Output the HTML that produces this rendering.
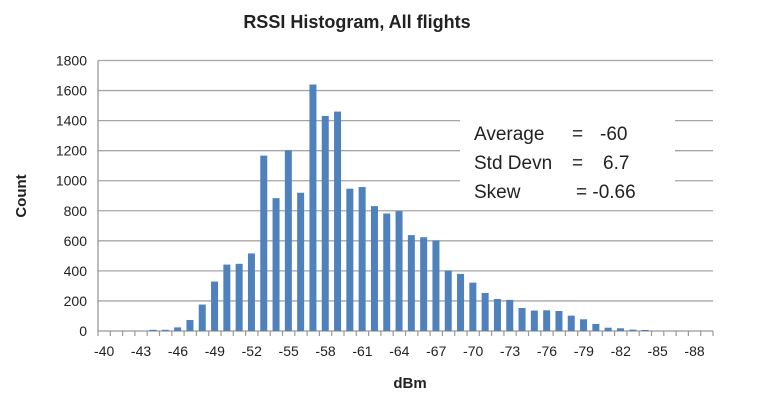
<!DOCTYPE html>
<html><head><meta charset="utf-8"><style>
body{margin:0;background:#fff;}
svg{display:block;font-family:"Liberation Sans",sans-serif;}
</style></head><body>
<svg id="chart" width="771" height="414" viewBox="0 0 771 414">
<text x="357" y="28" text-anchor="middle" font-size="18" font-weight="bold" fill="#222">RSSI Histogram, All flights</text>
<g id="grid"></g>
<g id="ylabels"></g>
<g id="bars"></g>
<g id="xaxis"></g>
<rect x="460" y="108" width="215" height="96" fill="#fff"/>
<g font-size="19" fill="#222">
<text x="474" y="140">Average</text><text x="572" y="140">=</text><text x="600" y="140">-60</text>
<text x="474" y="169">Std Devn</text><text x="572" y="169">=</text><text x="603" y="169">6.7</text>
<text x="474" y="198">Skew</text><text x="576" y="198">= -0.66</text>
</g>
<text transform="translate(26,196) rotate(-90)" text-anchor="middle" font-size="15" font-weight="bold" fill="#222">Count</text>
<text x="410" y="388" text-anchor="middle" font-size="15" font-weight="bold" fill="#222">dBm</text>
</svg>
<script>
const categories=[];for(let d=-40;d>=-89;d--)categories.push(d);
const counts=[0,0,0,0,8,8,24,73,176,329,442,447,516,1167,884,1202,920,1640,1431,1460,947,958,831,782,798,638,624,602,402,380,322,253,213,207,153,136,138,133,102,78,47,22,18,9,7,0,0,0,0,0];
const yTicks=[0,200,400,600,800,1000,1200,1400,1600,1800];
const NS="http://www.w3.org/2000/svg";
const L=98,R=713,B=331,T=60.5,yMax=1800;
const bw=(R-L)/categories.length;
const y=v=>B-(v/yMax)*(B-T);
const x=i=>L+bw*(i+0.5);
function mk(tag,attrs,parent){const e=document.createElementNS(NS,tag);for(const k in attrs)e.setAttribute(k,attrs[k]);parent.appendChild(e);return e;}
const grid=document.getElementById('grid'),yl=document.getElementById('ylabels'),bars=document.getElementById('bars'),xa=document.getElementById('xaxis');
yTicks.forEach(t=>{
 const ln=mk('line',{x1:L,x2:R,y1:y(t),y2:y(t),stroke:t===0?'#999':'#a6a6a6','stroke-width':1.3},grid);
 
 
 const tx=mk('text',{x:87,y:y(t)+5,'text-anchor':'end','font-size':14,fill:'#222'},yl);
 tx.textContent=t;
 
 
});
mk('line',{x1:L,x2:L,y1:T,y2:B,stroke:'#999','stroke-width':1.3},grid);
counts.forEach((v,i)=>{
 const r=mk('rect',{x:x(i)-3.8,y:y(v),width:7,height:B-y(v),fill:'#4f81bd'},bars);
 
 
});
for(let i=0;i<=categories.length;i++){
 mk('line',{x1:L+bw*i,x2:L+bw*i,y1:B,y2:B+5,stroke:'#999','stroke-width':1.2},xa);
}
categories.forEach((c,i)=>{
 if(i%3===0){
  const tx=mk('text',{x:x(i),y:B+25,'text-anchor':'middle','font-size':14,fill:'#222'},xa);
  tx.textContent=c;
  
  
 }
});
</script>
</body></html>
